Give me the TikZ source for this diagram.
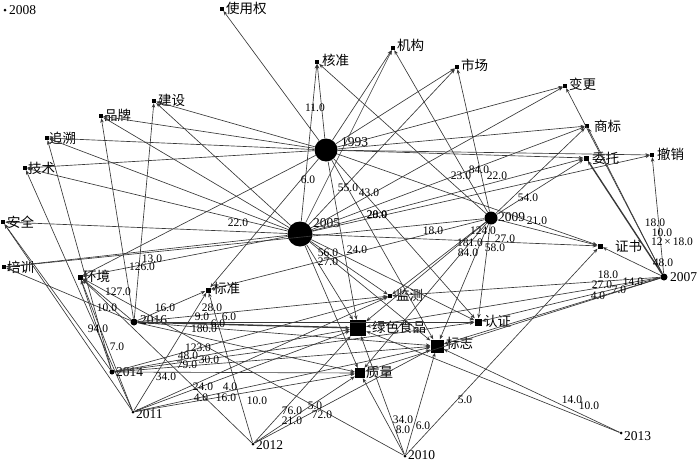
\documentclass[tikz,border=0pt]{standalone}
\usepackage{fontspec}
\setmainfont{Liberation Serif}
\newfontfamily\cjk{Noto Sans CJK SC}
\usetikzlibrary{arrows.meta}
\begin{document}
\begin{tikzpicture}[x=1pt,y=-1pt,
  yr/.style={circle,fill=black,inner sep=0pt,minimum size=#1},
  kw/.style={rectangle,fill=black,inner sep=0pt,minimum size=#1},
  klab/.style={font=\fontsize{13.5}{13.5}\selectfont\cjk,anchor=west,inner sep=0pt},
  ylab/.style={font=\fontsize{13.5}{13.5}\selectfont,anchor=west,inner sep=0pt},
  elab/.style={font=\fontsize{11.5}{11.5}\selectfont,inner sep=0pt},
  conn/.style={draw=black!78,line width=0.65pt,-{Stealth[length=4.5pt,width=3.5pt]}},
  thickconn/.style={conn,line width=1.4pt}]
\useasboundingbox (0,0) rectangle (700,463);
% year nodes
\node[yr=3pt]  (Y08) at (5,10) {};
\node[yr=23pt] (Y93) at (326,150) {};
\node[yr=25pt] (Y05) at (300,234) {};
\node[yr=13pt] (Y09) at (491,218) {};
\node[yr=7pt]  (Y07) at (664,277) {};
\node[yr=7pt]  (Y16) at (134,322) {};
\node[yr=5pt]  (Y14) at (112,372) {};
\node[yr=3pt]  (Y11) at (133,412) {};
\node[yr=3pt]  (Y12) at (253,444) {};
\node[yr=3pt]  (Y10) at (405,456) {};
\node[yr=3pt]  (Y13) at (621,433) {};
\node[ylab] (tY08) at (9,10) {2008};
\node[ylab] (tY93) at (341,142) {1993};
\node[ylab] (tY05) at (313,223) {2005};
\node[ylab] (tY09) at (498,217) {2009};
\node[ylab] (tY07) at (670,277) {2007};
\node[ylab] (tY16) at (140,320) {2016};
\node[ylab] (tY14) at (116,372) {2014};
\node[ylab] (tY11) at (136,414) {2011};
\node[ylab] (tY12) at (256,445) {2012};
\node[ylab] (tY10) at (408,455) {2010};
\node[ylab] (tY13) at (624,436) {2013};
% keyword nodes
\node[kw=3.5pt] (syq) at (222,9) {};
\node[kw=4pt] (hz)  at (317,62) {};
\node[kw=4pt] (jg)  at (393,48) {};
\node[kw=4pt] (sc)  at (457,67) {};
\node[kw=4pt] (bg)  at (565,86) {};
\node[kw=4pt] (sb)  at (587,126) {};
\node[kw=5pt] (wt)  at (586,158) {};
\node[kw=4pt] (cx)  at (652,155) {};
\node[kw=4pt] (js)  at (154,101) {};
\node[kw=4pt] (pp)  at (101,116) {};
\node[kw=4pt] (zs)  at (47,138) {};
\node[kw=4pt] (jsh) at (25,168) {};
\node[kw=4pt] (aq)  at (3,222) {};
\node[kw=4pt] (px)  at (4,267) {};
\node[kw=5pt] (hj)  at (80,277) {};
\node[kw=5pt] (bz)  at (208,290) {};
\node[kw=4pt] (jc)  at (390,296) {};
\node[kw=16pt] (ls) at (358,328) {};
\node[kw=7pt] (rz)  at (478,322) {};
\node[kw=13pt] (bzh) at (437,346) {};
\node[kw=10pt] (zl) at (360,373) {};
\node[kw=5pt] (zsh) at (600,246) {};
\node[klab] (tsyq) at (226,8) {使用权};
\node[klab] (thz)  at (322,60) {核准};
\node[klab] (tjg)  at (397,45) {机构};
\node[klab] (tsc)  at (461,65) {市场};
\node[klab] (tbg)  at (569,84) {变更};
\node[klab] (tsb)  at (594,126) {商标};
\node[klab] (twt)  at (592,158) {委托};
\node[klab] (tcx)  at (657,154) {撤销};
\node[klab] (tjs)  at (158,100) {建设};
\node[klab] (tpp)  at (104,115) {品牌};
\node[klab] (tzs)  at (49,138) {追溯};
\node[klab] (tjsh) at (28,168) {技术};
\node[klab] (taq)  at (7,222) {安全};
\node[klab] (tpx)  at (7,267) {培训};
\node[klab] (thj)  at (83,276) {环境};
\node[klab] (tbz)  at (213,288) {标准};
\node[klab] (tjc)  at (396,295) {监测};
\node[klab] (tls)  at (372,327) {绿色食品};
\node[klab] (trz)  at (484,321) {认证};
\node[klab] (tbzh) at (446,343) {标志};
\node[klab] (tzl)  at (366,372) {质量};
\node[klab] (tzsh) at (615,246) {证书};
% connectors
\foreach \a/\b in {Y93/syq,Y93/hz,Y93/jg,Y93/sc,Y93/bg,Y93/sb,Y93/wt,Y93/cx,Y93/js,Y93/pp,Y93/zs,Y93/jsh,Y93/bz,Y93/ls,Y93/rz,Y93/bzh,Y93/zsh,Y93/hj,
  Y05/hz,Y05/jg,Y05/sc,Y05/bg,Y05/sb,Y05/wt,Y05/cx,Y05/js,Y05/pp,Y05/zs,Y05/jsh,Y05/aq,Y05/px,Y05/hj,Y05/jc,Y05/ls,Y05/rz,Y05/bzh,Y05/zl,Y05/zsh,
  Y09/hz,Y09/jg,Y09/sc,Y09/sb,Y09/wt,Y09/zsh,Y09/px,Y09/bz,Y09/jc,Y09/ls,Y09/rz,Y09/bzh,Y09/zl,
  Y07/bg,Y07/sb,Y07/cx,Y07/zsh,Y07/jc,Y07/rz,Y07/bzh,Y07/ls,Y07/zl,
  Y16/js,Y16/pp,Y16/hj,Y16/bz,Y16/jc,Y16/rz,Y16/bzh,Y16/zl,Y16/px,
  Y14/zs,Y14/hj,Y14/aq,Y14/ls,Y14/bzh,Y14/zl,Y14/rz,Y14/jc,
  Y11/jsh,Y11/aq,Y11/hj,Y11/bz,Y11/ls,Y11/bzh,Y11/zl,Y11/jc,
  Y12/bz,Y12/hj,Y12/ls,Y12/zl,Y12/bzh,
  Y10/hj,Y10/ls,Y10/zl,Y10/bzh,Y10/zsh,
  Y13/ls,Y13/bzh}
  {\draw[conn] (\a) -- (\b);}
\draw[thickconn] (Y07) -- (wt);
\draw[thickconn] (Y16) -- (ls);
% connector labels
\foreach \x/\y/\t [count=\i] in {
 315/108/11.0, 308/180/6.0, 348/188/55.0, 369/193/43.0, 461/176/23.0, 479/170/84.0, 497/176/22.0,
 528/198/54.0, 537/221/21.0, 377/215/20.0, 377/215/28.0, 433/231/18.0, 483/231/124.0, 505/239/27.0,
 470/243/181.0, 495/248/58.0, 468/253/84.0, 357/250/24.0, 328/253/56.0, 328/262/27.0, 238/223/22.0,
 152/259/13.0, 142/267/126.0, 118/292/127.0, 107/308/10.0, 165/308/16.0, 212/308/28.0, 202/317/9.0,
 229/317/6.0, 218/324/6.0, 204/329/180.0, 98/329/94.0, 117/347/7.0, 198/348/123.0, 188/356/48.0,
 209/360/30.0, 187/365/79.0, 166/377/34.0, 203/387/24.0, 230/387/4.0, 201/398/4.0, 226/398/16.0,
 257/401/10.0, 315/406/5.0, 292/411/76.0, 322/415/72.0, 292/421/21.0, 465/400/5.0, 572/400/14.0,
 589/406/10.0, 403/420/34.0, 403/430/8.0, 423/426/6.0, 608/275/18.0, 633/282/14.0, 602/285/27.0,
 619/290/7.0, 598/296/4.0, 663/263/48.0, 655/223/18.0, 662/233/10.0, 672/242/12\,{\texttimes}\,18.0}
 {\node[elab] (e\i) at (\x,\y) {\t};}
\end{tikzpicture}
\end{document}
